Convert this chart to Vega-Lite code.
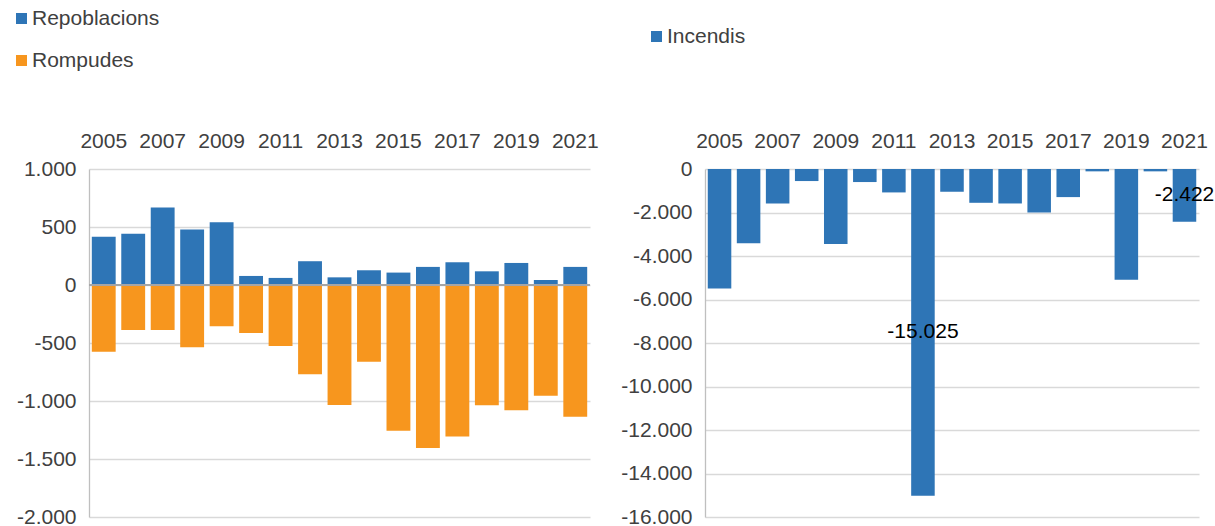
{
  "$schema": "https://vega.github.io/schema/vega-lite/v6.json",
  "padding": {"left": 11, "top": 8, "right": 3, "bottom": 5},
  "background": "white",
  "config": {
    "locale": {"number": {"decimal": ",", "thousands": ".", "grouping": [3], "currency": ["", " €"], "minus": "-"}},
    "font": "Liberation Sans",
    "view": {"stroke": null},
    "axis": {"labelFont": "Liberation Sans", "labelFontSize": 21, "labelColor": "#404040", "ticks": false, "title": null, "gridColor": "#d9d9d9", "gridWidth": 1.3},
    "legend": {"labelFont": "Liberation Sans", "labelFontSize": 21, "labelColor": "#404040", "symbolType": "square", "symbolSize": 121, "symbolStrokeWidth": 0, "labelOffset": 0, "padding": 0, "title": null}
  },
  "datasets": {
    "d": [
      {"year": "2005", "serie": "Repoblacions", "value": 415},
      {"year": "2006", "serie": "Repoblacions", "value": 441},
      {"year": "2007", "serie": "Repoblacions", "value": 669},
      {"year": "2008", "serie": "Repoblacions", "value": 478},
      {"year": "2009", "serie": "Repoblacions", "value": 542},
      {"year": "2010", "serie": "Repoblacions", "value": 78},
      {"year": "2011", "serie": "Repoblacions", "value": 61},
      {"year": "2012", "serie": "Repoblacions", "value": 205},
      {"year": "2013", "serie": "Repoblacions", "value": 66},
      {"year": "2014", "serie": "Repoblacions", "value": 127},
      {"year": "2015", "serie": "Repoblacions", "value": 107},
      {"year": "2016", "serie": "Repoblacions", "value": 156},
      {"year": "2017", "serie": "Repoblacions", "value": 196},
      {"year": "2018", "serie": "Repoblacions", "value": 118},
      {"year": "2019", "serie": "Repoblacions", "value": 190},
      {"year": "2020", "serie": "Repoblacions", "value": 43},
      {"year": "2021", "serie": "Repoblacions", "value": 156},
      {"year": "2005", "serie": "Rompudes", "value": -575},
      {"year": "2006", "serie": "Rompudes", "value": -388},
      {"year": "2007", "serie": "Rompudes", "value": -388},
      {"year": "2008", "serie": "Rompudes", "value": -537},
      {"year": "2009", "serie": "Rompudes", "value": -356},
      {"year": "2010", "serie": "Rompudes", "value": -414},
      {"year": "2011", "serie": "Rompudes", "value": -526},
      {"year": "2012", "serie": "Rompudes", "value": -770},
      {"year": "2013", "serie": "Rompudes", "value": -1034},
      {"year": "2014", "serie": "Rompudes", "value": -661},
      {"year": "2015", "serie": "Rompudes", "value": -1256},
      {"year": "2016", "serie": "Rompudes", "value": -1405},
      {"year": "2017", "serie": "Rompudes", "value": -1305},
      {"year": "2018", "serie": "Rompudes", "value": -1037},
      {"year": "2019", "serie": "Rompudes", "value": -1080},
      {"year": "2020", "serie": "Rompudes", "value": -954},
      {"year": "2021", "serie": "Rompudes", "value": -1135},
      {"year": "2005", "serie": "Incendis", "value": -5492},
      {"year": "2006", "serie": "Incendis", "value": -3415},
      {"year": "2007", "serie": "Incendis", "value": -1585},
      {"year": "2008", "serie": "Incendis", "value": -554},
      {"year": "2009", "serie": "Incendis", "value": -3446},
      {"year": "2010", "serie": "Incendis", "value": -600},
      {"year": "2011", "serie": "Incendis", "value": -1077},
      {"year": "2012", "serie": "Incendis", "value": -15025, "label": true},
      {"year": "2013", "serie": "Incendis", "value": -1046},
      {"year": "2014", "serie": "Incendis", "value": -1554},
      {"year": "2015", "serie": "Incendis", "value": -1585},
      {"year": "2016", "serie": "Incendis", "value": -2000},
      {"year": "2017", "serie": "Incendis", "value": -1292},
      {"year": "2018", "serie": "Incendis", "value": -108},
      {"year": "2019", "serie": "Incendis", "value": -5092},
      {"year": "2020", "serie": "Incendis", "value": -108},
      {"year": "2021", "serie": "Incendis", "value": -2422, "label": true}
    ]
  },
  "hconcat": [
    {
      "width": 501,
      "height": 348,
      "data": {"name": "d"},
      "transform": [{"filter": "datum.serie !== 'Incendis'"}],
      "layer": [
        {
          "mark": {"type": "bar"},
          "encoding": {
            "x": {"field": "year", "type": "ordinal", "scale": {"paddingInner": 0.19, "paddingOuter": 0.095},
              "axis": {"orient": "top", "labelAngle": 0, "domain": false, "labelPadding": 18, "values": ["2005","2007","2009","2011","2013","2015","2017","2019","2021"]}},
            "y": {"field": "value", "type": "quantitative", "scale": {"domain": [-2000, 1000], "nice": false},
              "axis": {"values": [-2000,-1500,-1000,-500,0,500,1000], "format": ",d", "labelPadding": 13, "domain": true, "domainColor": "#bfbfbf", "domainWidth": 1.3}},
            "color": {"field": "serie", "type": "nominal",
              "scale": {"domain": ["Repoblacions", "Rompudes"], "range": ["#2E75B6", "#F7961E"]},
              "legend": {"orient": "none", "legendX": -78, "legendY": -161, "direction": "vertical", "rowPadding": 20}}
          }
        },
        {
          "mark": {"type": "rule", "color": "#a6a6a6", "strokeWidth": 1.3},
          "encoding": {"y": {"datum": 0, "type": "quantitative"}}
        }
      ]
    },
    {
      "width": 494,
      "height": 348,
      "data": {"name": "d"},
      "transform": [{"filter": "datum.serie === 'Incendis'"}],
      "layer": [
        {
          "mark": {"type": "bar"},
          "encoding": {
            "x": {"field": "year", "type": "ordinal", "scale": {"paddingInner": 0.19, "paddingOuter": 0.095},
              "axis": {"orient": "top", "labelAngle": 0, "domain": false, "labelPadding": 18, "values": ["2005","2007","2009","2011","2013","2015","2017","2019","2021"]}},
            "y": {"field": "value", "type": "quantitative", "scale": {"domain": [-16000, 0], "nice": false},
              "axis": {"values": [-16000,-14000,-12000,-10000,-8000,-6000,-4000,-2000,0], "format": ",d", "labelPadding": 13, "domain": true, "domainColor": "#bfbfbf", "domainWidth": 1.3}},
            "color": {"field": "serie", "type": "nominal",
              "scale": {"domain": ["Incendis"], "range": ["#2E75B6"]},
              "legend": {"orient": "none", "legendX": -59, "legendY": -143}}
          }
        },
        {
          "transform": [{"filter": "datum.label === true"}, {"calculate": "datum.value / 2", "as": "mid"}],
          "mark": {"type": "text", "fontSize": 21, "color": "#000000", "font": "Liberation Sans", "baseline": "middle", "align": "center"},
          "encoding": {
            "x": {"field": "year", "type": "ordinal"},
            "y": {"field": "mid", "type": "quantitative"},
            "text": {"field": "value", "type": "quantitative", "format": ",d"}
          }
        }
      ]
    }
  ],
  "spacing": 21,
  "resolve": {"scale": {"color": "independent", "x": "independent", "y": "independent"}, "legend": {"color": "independent"}}
}
